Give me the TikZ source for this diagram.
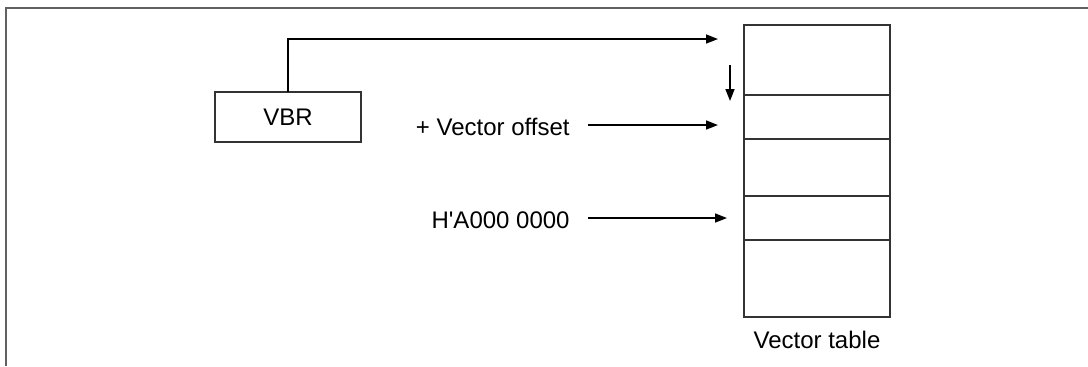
\documentclass[tikz,border=0pt]{standalone}
\usepackage{fontspec}
\setmainfont{Liberation Sans}
\usetikzlibrary{positioning,arrows.meta}
\definecolor{framegray}{rgb}{0.38,0.38,0.38}
\definecolor{linegray}{rgb}{0.2,0.2,0.2}

\begin{document}
\begin{tikzpicture}[x=0.5pt,y=-0.5pt,->,>={Triangle[length=6pt,width=4.5pt]},
		every node/.style = {font=\fontsize{12}{14}\selectfont},
		regbox/.style = {draw=linegray,line width=0.8pt,minimum width=73pt,minimum height=25pt,inner sep=0pt,outer sep=0pt},
		tabrow/.style = {draw=linegray,line width=0.8pt,minimum width=73pt,minimum height=#1,inner sep=0pt,outer sep=0pt},
		pointer/.style = {line width=0.8pt}]
		\useasboundingbox (0,0) rectangle (1088,366);
		% frame
		\draw[-,framegray,line width=1pt] (1088,8) -- (6,8) -- (6,366);
		% vector table
		\node [tabrow=35pt,anchor=north west] (row1) at (744,25) {};
		\node [tabrow=22pt,below=0pt of row1] (row2) {};
		\node [tabrow=28.5pt,below=0pt of row2] (row3) {};
		\node [tabrow=22pt,below=0pt of row3] (row4) {};
		\node [tabrow=38.5pt,below=0pt of row4] (row5) {};
		\node [below=7pt of row5,inner sep=0pt] (tabname) {Vector table};
		% base register
		\node [regbox] (vbr) at (288,117) {VBR};
		\coordinate (base) at (718,39);
		\draw [pointer] (vbr.north) |- (base);
		\coordinate (stepA) at (730,65);
		\coordinate (stepB) at (730,101);
		\draw [pointer] (stepA) -- (stepB);
		% labels
		\node [anchor=east,inner sep=0pt] (offset) at (570,127) {+ Vector offset};
		\coordinate (offtip) at (718,125);
		\draw [pointer] (offset.east) ++(18,-2) -- (offtip);
		\node [anchor=east,inner sep=0pt] (reset) at (570,220) {H\textquotesingle A000 0000};
		\coordinate (resettip) at (727,218);
		\draw [pointer] (reset.east) ++(18,-2) -- (resettip);
\end{tikzpicture}
\end{document}
